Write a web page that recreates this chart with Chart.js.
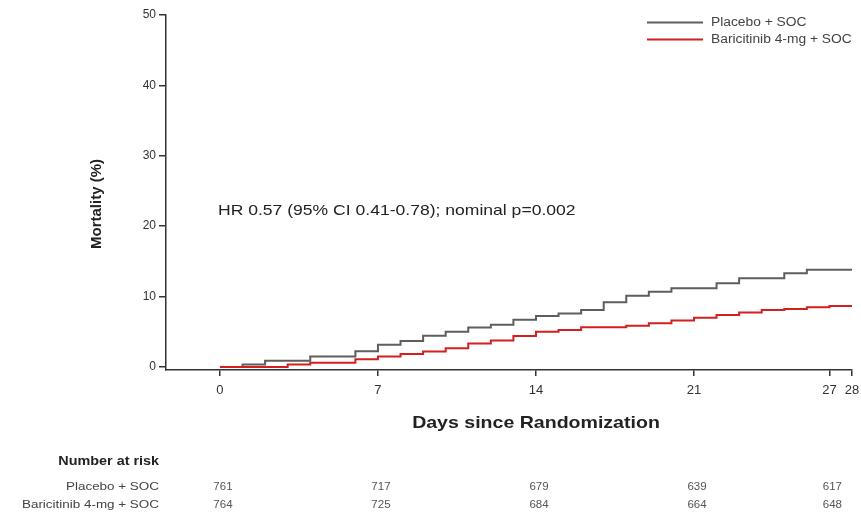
<!DOCTYPE html>
<html>
<head>
<meta charset="utf-8">
<script src="https://cdn.jsdelivr.net/npm/chart.js@4.4.0/dist/chart.umd.min.js"></script>
<style>
  html, body { margin: 0; padding: 0; background: #fff; }
  #wrap { width: 861px; height: 512px; }
</style>
</head>
<body>
<div id="wrap"><canvas id="km" width="861" height="512"></canvas></div>
<script>
// Kaplan-Meier mortality, value held from day d until day d+1
const days = [0, 1, 2, 3, 4, 5, 6, 7, 8, 9, 10, 11, 12, 13, 14, 15, 16, 17, 18, 19, 20, 21, 22, 23, 24, 25, 26, 27, 28];
const placebo = [0, 0.35, 0.87, 0.87, 1.5, 1.5, 2.25, 3.15, 3.7, 4.45, 5.0, 5.6, 6.0, 6.7, 7.25, 7.6, 8.1, 9.2, 10.1, 10.7, 11.2, 11.2, 11.9, 12.6, 12.6, 13.3, 13.8, 13.8, 13.8];
const baricitinib = [0, 0, 0, 0.35, 0.6, 0.6, 1.1, 1.5, 1.85, 2.2, 2.65, 3.35, 3.75, 4.4, 5.0, 5.25, 5.65, 5.65, 5.85, 6.2, 6.6, 7.0, 7.4, 7.75, 8.1, 8.25, 8.5, 8.65, 8.65];

const xTicks = [0, 7, 14, 21, 27, 28];
const yTicks = [0, 10, 20, 30, 40, 50];

const seriesNames = ['Placebo + SOC', 'Baricitinib 4-mg + SOC'];
const riskDays = [0, 7, 14, 21, 27];
const riskPlacebo = [761, 717, 679, 639, 617];
const riskBaricitinib = [764, 725, 684, 664, 648];

const GREY = '#5e5e5e';
const RED = '#d41f1f';
const FONT = '"Liberation Sans", Arial, sans-serif';
const SX = 1.15; // the source figure is slightly stretched sideways

function text(ctx, str, x, y, font, color, align, sx) {
  ctx.save();
  ctx.font = font;
  ctx.fillStyle = color;
  ctx.textAlign = align;
  ctx.textBaseline = 'middle';
  ctx.translate(x, y);
  ctx.scale(sx || 1, 1);
  ctx.fillText(str, 0, 0);
  ctx.restore();
}

const extras = {
  id: 'extras',
  afterDraw(chart) {
    const ctx = chart.ctx;
    const x = chart.scales.x;

    // y axis title
    ctx.save();
    ctx.translate(97, 204);
    ctx.rotate(-Math.PI / 2);
    text(ctx, 'Mortality (%)', 0, 0, 'bold 15px ' + FONT, '#222', 'center');
    ctx.restore();

    // x axis title
    text(ctx, 'Days since Randomization', x.getPixelForValue(14), 423, 'bold 17px ' + FONT, '#222', 'center', SX);

    // hazard ratio note
    text(ctx, 'HR 0.57 (95% CI 0.41-0.78); nominal p=0.002', 218, 211, '15px ' + FONT, '#222', 'left', 1.17);

    // legend
    const colors = [GREY, RED];
    [22.5, 39.5].forEach((ly, i) => {
      ctx.save();
      ctx.strokeStyle = colors[i];
      ctx.lineWidth = 2;
      ctx.beginPath();
      ctx.moveTo(647, ly);
      ctx.lineTo(703, ly);
      ctx.stroke();
      ctx.restore();
      text(ctx, seriesNames[i], 711, ly, '12px ' + FONT, '#444', 'left', SX);
    });

    // number at risk table
    text(ctx, 'Number at risk', 159, 462, 'bold 12.5px ' + FONT, '#222', 'right', SX);
    text(ctx, seriesNames[0], 159, 487, '11.7px ' + FONT, '#444', 'right', SX);
    text(ctx, seriesNames[1], 159, 505, '11.7px ' + FONT, '#444', 'right', SX);
    riskDays.forEach((d, i) => {
      const px = x.getPixelForValue(d) + 3;
      text(ctx, String(riskPlacebo[i]), px, 487, '11.5px ' + FONT, '#555', 'center');
      text(ctx, String(riskBaricitinib[i]), px, 505, '11.5px ' + FONT, '#555', 'center');
    });
  }
};

new Chart(document.getElementById('km'), {
  type: 'line',
  data: {
    datasets: [
      {
        label: seriesNames[0],
        data: days.map((d, i) => ({ x: d, y: placebo[i] })),
        borderColor: GREY,
        borderWidth: 2,
        stepped: 'before',
        pointRadius: 0,
        order: 2
      },
      {
        label: seriesNames[1],
        data: days.map((d, i) => ({ x: d, y: baricitinib[i] })),
        borderColor: RED,
        borderWidth: 2,
        stepped: 'before',
        pointRadius: 0,
        order: 1
      }
    ]
  },
  options: {
    responsive: false,
    animation: false,
    devicePixelRatio: 1,
    layout: { padding: { left: 0, right: 9, top: 15, bottom: 0 } },
    plugins: {
      legend: { display: false },
      tooltip: { enabled: false }
    },
    scales: {
      x: {
        type: 'linear',
        min: -2.39,
        max: 28,
        afterBuildTicks: s => { s.ticks = xTicks.map(v => ({ value: v })); },
        afterFit: s => {
          s.height = 142;
          s.paddingLeft = 0;
          s.paddingRight = 0;
        },
        border: { display: true, color: '#333', width: 1.5 },
        grid: { drawOnChartArea: false, drawTicks: true, tickLength: 6, color: '#333', lineWidth: 1.5 },
        ticks: {
          autoSkip: false,
          maxRotation: 0,
          padding: 7,
          color: '#333',
          font: { family: FONT, size: 13 }
        }
      },
      y: {
        min: -0.43,
        max: 50,
        afterBuildTicks: s => { s.ticks = yTicks.map(v => ({ value: v })); },
        afterFit: s => { s.width = 166; },
        border: { display: true, color: '#333', width: 1.5 },
        grid: { drawOnChartArea: false, drawTicks: true, tickLength: 7, color: '#333', lineWidth: 1.5 },
        ticks: {
          padding: 3,
          color: '#333',
          font: { family: FONT, size: 12 }
        }
      }
    }
  },
  plugins: [extras]
});
</script>
</body>
</html>
